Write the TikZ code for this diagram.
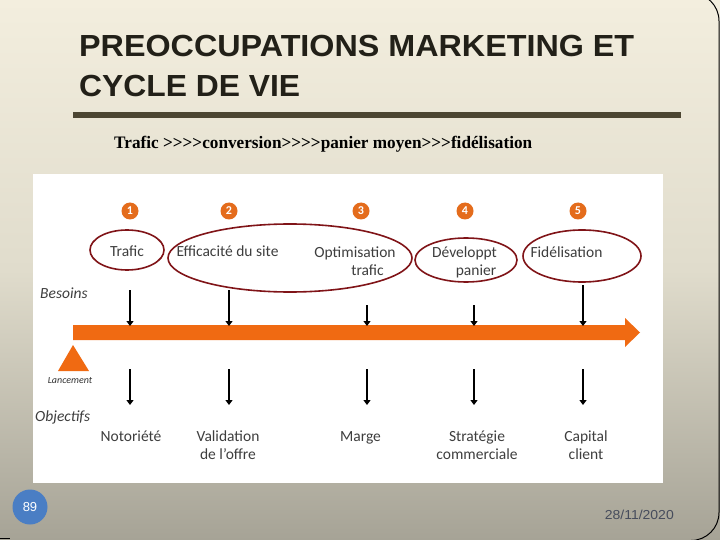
\documentclass[tikz,border=0pt]{standalone}
\usepackage{fontspec}
\usepackage{graphicx}
\setmainfont{Liberation Serif}
\newfontfamily\arialf{Liberation Sans}
\newfontfamily\calib{Carlito}
\usetikzlibrary{arrows.meta,shapes.geometric}
\definecolor{bgtop}{RGB}{243,238,222}
\definecolor{bgmid}{RGB}{224,220,204}
\definecolor{bgbot}{RGB}{166,163,150}
\definecolor{rulec}{RGB}{76,70,50}
\definecolor{orangec}{RGB}{240,106,18}
\definecolor{numc}{RGB}{228,108,28}
\definecolor{ringc}{RGB}{128,20,24}
\definecolor{txtc}{RGB}{62,62,62}
\definecolor{pgblue}{RGB}{74,126,196}
\definecolor{datec}{RGB}{70,76,92}
\definecolor{titlec}{RGB}{34,32,24}
\newcommand\fitw[2]{\resizebox{#1pt}{\height}{#2}}
\newcommand\gt{>\kern0pt}
\tikzset{
  ring/.style={draw=ringc, line width=1.6pt, ellipse, inner sep=0pt},
  lbl/.style={font=\calib\fontsize{15.5}{19}\selectfont, text=txtc, inner sep=0pt, anchor=base},
  ital/.style={font=\calib\itshape\fontsize{15.5}{16}\selectfont, text=txtc, inner sep=0pt, anchor=base west},
  numb/.style={circle, fill=numc, minimum size=17pt, inner sep=0pt, text=white, font=\calib\bfseries\fontsize{12}{12}\selectfont},
  downarrow/.style={line width=2.6pt, -{Triangle[width=7pt,length=5pt]}},
  titlef/.style={anchor=base west, inner sep=0pt, font=\arialf\bfseries\fontsize{30.5}{36}\selectfont, text=titlec},
}
\begin{document}
\begin{tikzpicture}[x=1pt,y=-1pt]
\useasboundingbox (0,0) rectangle (720,540);
\shade[top color=bgtop, bottom color=bgbot, middle color=bgmid] (0,0) rectangle (720,540);
% frame
\begin{scope}
\clip (0,0) rectangle (720,540);
\draw[line width=1pt, rounded corners=28pt] (-40,-7) -- (719,-7) -- (719,540.5) -- (-40,540.5);
\end{scope}
% title
\node[titlef] (t1) at (79,57) {\fitw{555}{PREOCCUPATIONS MARKETING ET}};
\node[titlef] (t2) at (79,97) {\fitw{221}{CYCLE DE VIE}};
\fill[rulec] (73,112.5) rectangle (681,118.5);
\node[anchor=base west, inner sep=0pt, font=\bfseries\fontsize{17.5}{19}\selectfont] (sub) at (114,148.5) {\fitw{418}{Trafic \gt\gt\gt\gt conversion\gt\gt\gt\gt panier moyen\gt\gt\gt fidélisation}};
% white picture
\fill[white] (33,174) rectangle (663,483);
% numbers
\node[numb] (n1) at (130,211) {1};
\node[numb] (n2) at (229,211) {2};
\node[numb] (n3) at (361,211) {3};
\node[numb] (n4) at (465,211) {4};
\node[numb] (n5) at (578,211) {5};
% rings
\node[ring, minimum width=74pt, minimum height=40pt] (r1) at (127,250) {};
\node[ring, minimum width=244pt, minimum height=68pt] (r2) at (290,258) {};
\node[ring, minimum width=102pt, minimum height=44pt] (r3) at (466,260) {};
\node[ring, minimum width=118pt, minimum height=52pt] (r4) at (582,256) {};
% top labels
\node[lbl] (b1) at (127,256) {Trafic};
\node[lbl] (b2) at (227.5,256.5) {Efficacité du site};
\node[lbl] (b3) at (355,257) {Optimisation};
\node[lbl] (b3b) at (367.5,275) {trafic};
\node[lbl] (b4) at (464.5,257) {Développt};
\node[lbl] (b4b) at (476,275) {panier};
\node[lbl] (b5) at (566.5,257) {Fidélisation};
\node[ital] (bes) at (40,298) {Besoins};
% main orange arrow
\fill[orangec] (73,325) -- (625,325) -- (625,318) -- (640,332.5) -- (625,347) -- (625,340) -- (73,340) -- cycle;
% launch triangle
\fill[orangec] (58,371) -- (73,345) -- (89,371) -- cycle;
\begin{scope}
\clip (40,377) rectangle (100,392);
\node[font=\calib\itshape\fontsize{10}{10}\selectfont, text=black!80, inner sep=0pt] (lanc) at (70,380) {Lancement};
\end{scope}
% upper arrows
\coordinate (u1a) at (130,290); \coordinate (u1b) at (130,326);
\coordinate (u2a) at (229,290); \coordinate (u2b) at (229,326);
\coordinate (u3a) at (367,305); \coordinate (u3b) at (367,326);
\coordinate (u4a) at (474,305); \coordinate (u4b) at (474,326);
\coordinate (u5a) at (583,285); \coordinate (u5b) at (583,326);
\foreach \i in {1,...,5} {\draw[downarrow] (u\i a) -- (u\i b);}
% lower arrows
\coordinate (d1a) at (130,369); \coordinate (d1b) at (130,405);
\coordinate (d2a) at (229,369); \coordinate (d2b) at (229,405);
\coordinate (d3a) at (367,369); \coordinate (d3b) at (367,405);
\coordinate (d4a) at (474,369); \coordinate (d4b) at (474,405);
\coordinate (d5a) at (583,369); \coordinate (d5b) at (583,405);
\foreach \i in {1,...,5} {\draw[downarrow] (d\i a) -- (d\i b);}
\node[ital] (obj) at (35,421) {Objectifs};
% bottom labels
\node[lbl] (o1) at (131,441) {Notoriété};
\node[lbl] (o2) at (228,441) {Validation};
\node[lbl] (o2b) at (228,459) {de l’offre};
\node[lbl] (o3) at (360.5,441) {Marge};
\node[lbl] (o4) at (477,441) {Stratégie};
\node[lbl] (o4b) at (477,459) {commerciale};
\node[lbl] (o5) at (586,441) {Capital};
\node[lbl] (o5b) at (586,459) {client};
% footer
\node[circle, fill=pgblue, minimum size=35pt, inner sep=0pt, text=white, font=\arialf\fontsize{13}{13}\selectfont] (pg) at (30,507) {89};
\node[anchor=base east, inner sep=0pt, text=datec, font=\arialf\fontsize{13}{13}\selectfont] (date) at (674,519) {\fitw{69}{28/11/2020}};
\draw[line width=1pt] (0,538.7) -- (10,538.7);
\end{tikzpicture}
\end{document}
